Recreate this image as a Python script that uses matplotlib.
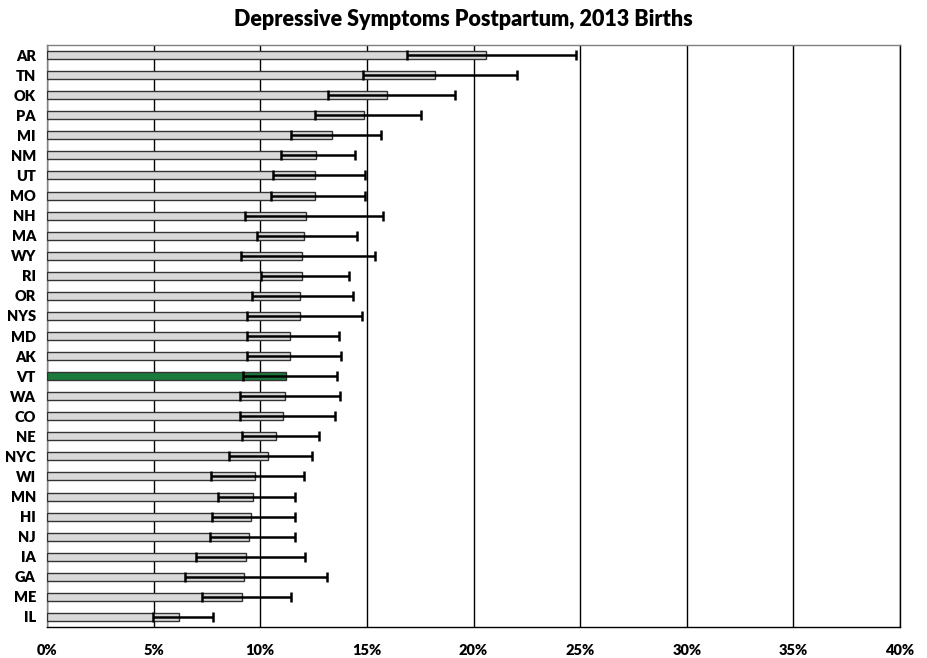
import numpy as np
import matplotlib.pyplot as plt
from matplotlib.ticker import PercentFormatter

plt.rcParams['font.family'] = ['Lato', 'DejaVu Sans']

states = ["AR", "TN", "OK", "PA", "MI", "NM", "UT", "MO", "NH", "MA",
          "WY", "RI", "OR", "NYS", "MD", "AK", "VT", "WA", "CO", "NE",
          "NYC", "WI", "MN", "HI", "NJ", "IA", "GA", "ME", "IL"]
pct = [20.6, 18.2, 15.95, 14.85, 13.35, 12.6, 12.55, 12.55, 12.15, 12.05,
       11.95, 11.95, 11.85, 11.85, 11.4, 11.4, 11.2, 11.15, 11.05, 10.75,
       10.35, 9.75, 9.65, 9.55, 9.45, 9.35, 9.25, 9.15, 6.2]
ci_low = [16.9, 14.8, 13.2, 12.55, 11.45, 10.95, 10.6, 10.5, 9.3, 9.85,
          9.1, 10.05, 9.6, 9.4, 9.4, 9.4, 9.2, 9.05, 9.05, 9.15,
          8.55, 7.7, 8.0, 7.75, 7.65, 7.0, 6.45, 7.25, 4.95]
ci_high = [24.8, 22.05, 19.15, 17.55, 15.65, 14.45, 14.9, 14.9, 15.75, 14.55,
           15.4, 14.15, 14.35, 14.75, 13.7, 13.8, 13.6, 13.75, 13.5, 12.75,
           12.45, 12.05, 11.65, 11.65, 11.65, 12.1, 13.15, 11.45, 7.8]
highlight = "VT"

pct = np.array(pct)
lo = np.array(ci_low)
hi = np.array(ci_high)
y = np.arange(len(states))[::-1]

fig = plt.figure(figsize=(9.27, 6.58), dpi=100)
ax = fig.add_axes([47 / 927, 1 - 627 / 658, 853 / 927, 582 / 658])

colors = ["#1a7a3c" if s == highlight else "#d9d9d9" for s in states]
ax.barh(y, pct, height=0.4, color=colors, edgecolor="#333333", linewidth=1.0, zorder=3)
ax.errorbar(pct, y, xerr=[pct - lo, hi - pct], fmt="none", ecolor="black",
            elinewidth=1.8, capsize=3.5, capthick=1.8, zorder=4)

ax.set_xlim(0, 40)
ax.set_ylim(-0.5, len(states) - 0.5)
ax.set_xticks(np.arange(0, 41, 5))
ax.xaxis.set_major_formatter(PercentFormatter(decimals=0))
ax.set_yticks(y)
ax.set_yticklabels(states)
ax.tick_params(axis="both", length=0, labelsize=10.5)
ax.tick_params(axis="x", pad=12)
ax.tick_params(axis="y", pad=8)
for lab in ax.get_xticklabels() + ax.get_yticklabels():
    lab.set_fontweight("heavy")

ax.grid(axis="x", color="black", linewidth=1.0, zorder=0)
for side in ["left", "top"]:
    ax.spines[side].set_color("#808080")
ax.spines["right"].set_color("black")
ax.spines["bottom"].set_color("black")
for sp in ax.spines.values():
    sp.set_linewidth(1.0)

fig.text(0.5, 1 - 19 / 658, "Depressive Symptoms Postpartum, 2013 Births",
         ha="center", va="center", fontsize=15.5, fontweight="heavy")

fig.savefig("out.png", dpi=100)
